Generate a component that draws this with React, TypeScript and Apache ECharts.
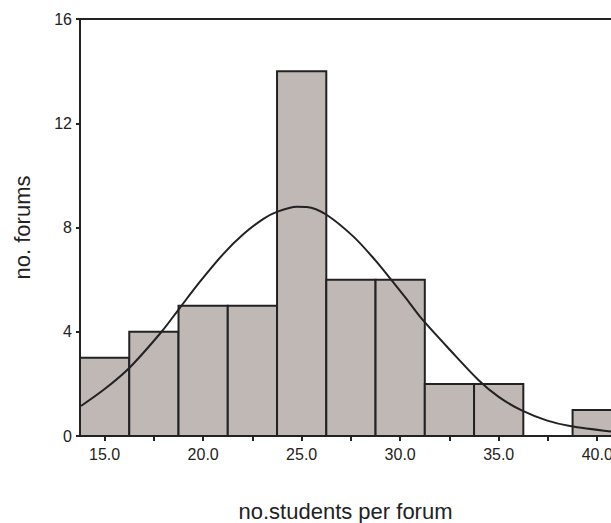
import React, { useEffect, useRef } from "react";
import * as echarts from "echarts";

const binCenters = [15, 17.5, 20, 22.5, 25, 27.5, 30, 32.5, 35, 37.5, 40];
const counts = [3, 4, 5, 5, 14, 6, 6, 2, 2, 0, 1];
const binWidth = 2.5;
const xTicks = [15, 17.5, 20, 22.5, 25, 27.5, 30, 32.5, 35, 37.5, 40];
const xLabels = [15, 20, 25, 30, 35, 40];
const curveX = [13.8, 15.0, 16.25, 17.89, 18.82, 19.85, 21.04, 22.05, 23.06, 23.74, 24.76, 25.26, 26.24, 27.63, 28.73, 29.49, 30.33, 31.09, 32.53, 33.97, 35.0, 36.17, 37.43, 38.62, 40.7];
const curveY = [1.15, 1.8, 2.61, 4.0, 4.92, 5.93, 7.0, 7.75, 8.33, 8.6, 8.8, 8.79, 8.5, 7.65, 6.75, 6.05, 5.25, 4.5, 3.3, 2.15, 1.5, 0.98, 0.6, 0.38, 0.17];

export default function App() {
  const ref = useRef<HTMLDivElement>(null);
  useEffect(() => {
    if (!ref.current) return;
    const chart = echarts.init(ref.current, null, { renderer: "svg" });
    const font = "Liberation Sans, Arial, sans-serif";
    const dark = "#222";
    chart.setOption({
      animation: false,
      grid: { left: 80, top: 19, right: 0, bottom: 87, outerBoundsMode: "none", containLabel: false },
      xAxis: [
        {
          type: "value",
          min: 13.75,
          max: 40.7,
          name: "no.students per forum",
          nameLocation: "middle",
          nameGap: 64,
          nameTextStyle: { fontFamily: font, fontSize: 22, color: dark },
          splitLine: { show: false },
          axisLine: { lineStyle: { color: dark, width: 2 } },
          axisTick: { customValues: xTicks, length: 5, lineStyle: { color: dark, width: 2 } },
          axisLabel: {
            customValues: xLabels,
            margin: 10,
            fontFamily: font,
            fontSize: 16,
            color: dark,
            formatter: (v: number) => v.toFixed(1),
          },
        },
        {
          type: "value",
          position: "top",
          min: 13.75,
          max: 40.7,
          splitLine: { show: false },
          axisLine: { show: true, lineStyle: { color: dark, width: 2 } },
          axisTick: { show: false },
          axisLabel: { show: false },
        },
      ],
      yAxis: {
        type: "value",
        min: 0,
        max: 16,
        interval: 4,
        name: "no. forums",
        nameLocation: "middle",
        nameGap: 47,
        nameTextStyle: { fontFamily: font, fontSize: 22, color: dark },
        splitLine: { show: false },
        axisLine: { show: true, lineStyle: { color: dark, width: 2 } },
        axisTick: { show: true, length: 4, lineStyle: { color: dark, width: 2 } },
        axisLabel: { margin: 8, fontFamily: font, fontSize: 16, color: dark },
      },
      series: [
        {
          type: "custom",
          xAxisIndex: 0,
          data: binCenters.map((c, i) => [c, counts[i]]),
          renderItem: (params: any, api: any) => {
            const c = api.value(0);
            const v = api.value(1);
            if (!v) return null;
            const p0 = api.coord([c - binWidth / 2, v]);
            const p1 = api.coord([c + binWidth / 2, 0]);
            return {
              type: "rect",
              shape: { x: p0[0], y: p0[1], width: p1[0] - p0[0], height: p1[1] - p0[1] },
              style: { fill: "#c0b8b5", stroke: dark, lineWidth: 2 },
            };
          },
          z: 1,
        },
        {
          type: "line",
          xAxisIndex: 0,
          data: curveX.map((x, i) => [x, curveY[i]]),
          smooth: 0.3,
          showSymbol: false,
          lineStyle: { color: dark, width: 2 },
          z: 3,
        },
      ],
    });
    return () => chart.dispose();
  }, []);
  return <div ref={ref} style={{ width: 611, height: 523, position: "absolute", left: 0, top: 0 }} />;
}
